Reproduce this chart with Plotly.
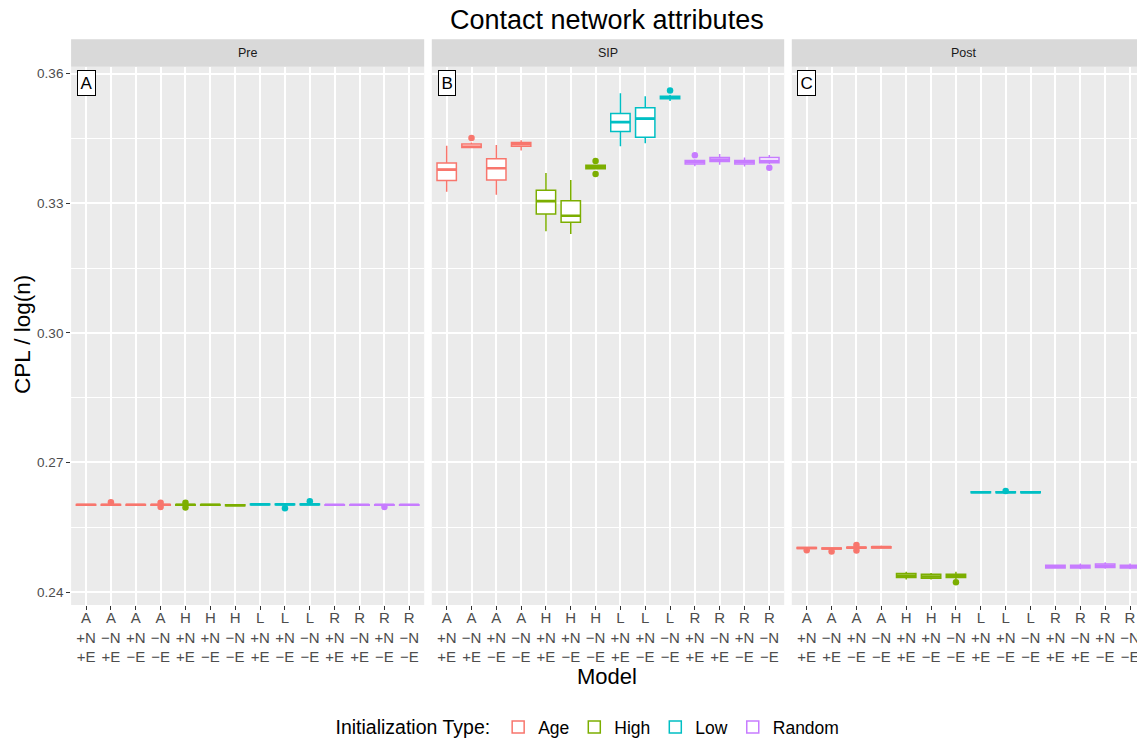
import plotly.graph_objects as go

# ---- data -------------------------------------------------------------
models = ["A+N+E", "A−N+E", "A+N−E", "A−N−E",
          "H+N+E", "H+N−E", "H−N−E",
          "L+N+E", "L+N−E", "L−N−E",
          "R+N+E", "R−N+E", "R+N−E", "R−N−E"]
model_init = ["Age"] * 4 + ["High"] * 3 + ["Low"] * 3 + ["Random"] * 4
tick_labels = ["A<br>+N<br>+E", "A<br>−N<br>+E", "A<br>+N<br>−E", "A<br>−N<br>−E",
               "H<br>+N<br>+E", "H<br>+N<br>−E", "H<br>−N<br>−E",
               "L<br>+N<br>+E", "L<br>+N<br>−E", "L<br>−N<br>−E",
               "R<br>+N<br>+E", "R<br>−N<br>+E", "R<br>+N<br>−E", "R<br>−N<br>−E"]
periods = ["Pre", "SIP", "Post"]
panel_tags = ["A", "B", "C"]
init_types = ["Age", "High", "Low", "Random"]
init_colors = {"Age": "#F8766D", "High": "#7CAE00", "Low": "#00BFC4", "Random": "#C77CFF"}

# five-number summaries per model: lower whisker, q1, median, q3, upper whisker
pre_lo  = [0.2600, 0.2600, 0.2600, 0.2600, 0.2600, 0.2600, 0.2599, 0.2601, 0.2601, 0.2601, 0.2601, 0.2601, 0.2601, 0.2601]
pre_q1  = [0.2601, 0.2601, 0.2601, 0.2601, 0.2601, 0.2601, 0.2600, 0.2602, 0.2602, 0.2602, 0.2601, 0.2601, 0.2601, 0.2601]
pre_med = [0.2602, 0.2602, 0.2602, 0.2602, 0.2602, 0.2602, 0.2601, 0.2603, 0.2603, 0.2603, 0.2602, 0.2602, 0.2602, 0.2602]
pre_q3  = [0.2603, 0.2603, 0.2603, 0.2603, 0.2603, 0.2603, 0.2602, 0.2604, 0.2604, 0.2604, 0.2602, 0.2602, 0.2602, 0.2602]
pre_hi  = [0.2604, 0.2604, 0.2604, 0.2604, 0.2604, 0.2604, 0.2603, 0.2605, 0.2605, 0.2606, 0.2603, 0.2603, 0.2603, 0.2603]

sip_lo  = [0.3327, 0.3428, 0.3320, 0.3422, 0.3235, 0.3229, 0.3380, 0.3432, 0.3439, 0.3537, 0.3386, 0.3389, 0.3385, 0.3391]
sip_q1  = [0.3353, 0.3429, 0.3354, 0.3432, 0.3275, 0.3256, 0.3380, 0.3466, 0.3453, 0.3542, 0.3391, 0.3397, 0.3391, 0.3394]
sip_med = [0.3378, 0.3431, 0.3381, 0.3437, 0.3305, 0.3271, 0.3385, 0.3488, 0.3496, 0.3545, 0.3395, 0.3401, 0.3395, 0.3398]
sip_q3  = [0.3393, 0.3437, 0.3403, 0.3441, 0.3330, 0.3306, 0.3388, 0.3508, 0.3521, 0.3548, 0.3399, 0.3406, 0.3399, 0.3406]
sip_hi  = [0.3433, 0.3441, 0.3435, 0.3446, 0.3370, 0.3354, 0.3388, 0.3555, 0.3548, 0.3551, 0.3402, 0.3414, 0.3406, 0.3412]

post_lo  = [0.2500, 0.2499, 0.2500, 0.2501, 0.2429, 0.2429, 0.2430, 0.2629, 0.2629, 0.2629, 0.2455, 0.2453, 0.2454, 0.2453]
post_q1  = [0.2501, 0.2500, 0.2502, 0.2502, 0.2434, 0.2432, 0.2434, 0.2630, 0.2630, 0.2630, 0.2456, 0.2456, 0.2457, 0.2456]
post_med = [0.2502, 0.2501, 0.2503, 0.2504, 0.2438, 0.2436, 0.2437, 0.2631, 0.2631, 0.2631, 0.2459, 0.2459, 0.2461, 0.2459]
post_q3  = [0.2503, 0.2502, 0.2504, 0.2505, 0.2443, 0.2441, 0.2441, 0.2632, 0.2632, 0.2632, 0.2462, 0.2462, 0.2465, 0.2462]
post_hi  = [0.2504, 0.2503, 0.2505, 0.2507, 0.2447, 0.2444, 0.2447, 0.2633, 0.2633, 0.2633, 0.2464, 0.2466, 0.2469, 0.2466]

# outlying replicates: (model index, value)
pre_out  = [(1, 0.2608), (3, 0.2597), (3, 0.2607), (4, 0.2596), (4, 0.2607),
            (8, 0.2594), (9, 0.2610), (12, 0.2597)]
sip_out  = [(1, 0.3451), (6, 0.3398), (6, 0.3368), (9, 0.3561), (10, 0.3411), (13, 0.3382)]
post_out = [(0, 0.2497), (1, 0.2494), (2, 0.2496), (2, 0.2509), (6, 0.2423), (8, 0.2634)]

summaries = {
    "Pre": (pre_lo, pre_q1, pre_med, pre_q3, pre_hi, pre_out),
    "SIP": (sip_lo, sip_q1, sip_med, sip_q3, sip_hi, sip_out),
    "Post": (post_lo, post_q1, post_med, post_q3, post_hi, post_out),
}

# ---- layout geometry --------------------------------------------------
W, H = 1137, 738
FONT = "Liberation Sans, Arial, sans-serif"
BOX_W = 0.78
x_domains = [[71.1 / W, 424.2 / W], [431.8 / W, 784.2 / W], [791.8 / W, 1.0]]
x_ranges = [[-0.6, 13.6], [-0.6, 13.6], [-0.6, 13.28]]
y_domain = [1 - 605 / H, 1 - 66.7 / H]
strip_dom = [1 - 66.7 / H, 1 - 39.3 / H]
y_range = [0.23701, 0.36162]

fig = go.Figure()

for p, period in enumerate(periods):
    lo, q1, med, q3, hi, outs = summaries[period]
    xa = "x" if p == 0 else f"x{p + 1}"
    ya = "y" if p == 0 else f"y{p + 1}"
    for t in init_types:
        idx = [i for i, m in enumerate(model_init) if m == t]
        col = init_colors[t]
        fig.add_trace(go.Box(
            x=idx, q1=[q1[i] for i in idx], median=[med[i] for i in idx],
            q3=[q3[i] for i in idx], lowerfence=[lo[i] for i in idx],
            upperfence=[hi[i] for i in idx], orientation="v",
            width=BOX_W, whiskerwidth=0, boxpoints=False,
            fillcolor="white", line=dict(color=col, width=1.5),
            name=t, legendgroup=t, showlegend=(p == 0),
            xaxis=xa, yaxis=ya))
        # thicker median bar
        mx, my = [], []
        for i in idx:
            mx += [i - BOX_W / 2, i + BOX_W / 2, None]
            my += [med[i], med[i], None]
        fig.add_trace(go.Scatter(
            x=mx, y=my, mode="lines", line=dict(color=col, width=2.6),
            legendgroup=t, showlegend=False, hoverinfo="skip",
            xaxis=xa, yaxis=ya))
        ox = [i for i, v in outs if model_init[i] == t]
        oy = [v for i, v in outs if model_init[i] == t]
        if ox:
            fig.add_trace(go.Scatter(
                x=ox, y=oy, mode="markers",
                marker=dict(color=col, size=6.5),
                legendgroup=t, showlegend=False,
                xaxis=xa, yaxis=ya))

axis_common = dict(showline=False, zeroline=False, automargin=False,
                   gridcolor="white", gridwidth=1.6,
                   ticks="outside", ticklen=4, tickwidth=1, tickcolor="#333333")
layout_axes = {}
for p in range(3):
    xk = "xaxis" if p == 0 else f"xaxis{p + 1}"
    yk = "yaxis" if p == 0 else f"yaxis{p + 1}"
    layout_axes[xk] = dict(
        axis_common, domain=x_domains[p], range=x_ranges[p],
        anchor="y" if p == 0 else f"y{p + 1}",
        tickmode="array", tickvals=list(range(len(models))), ticktext=tick_labels,
        ticklabeloverflow="allow", ticklabelstandoff=-5,
        tickfont=dict(family=FONT, size=15, color="#4D4D4D"), showgrid=True)
    layout_axes[yk] = dict(
        axis_common, domain=y_domain, range=y_range,
        anchor="x" if p == 0 else f"x{p + 1}",
        tickmode="array", tickvals=[0.24, 0.27, 0.30, 0.33, 0.36],
        ticktext=["0.24", "0.27", "0.30", "0.33", "0.36"],
        tickfont=dict(family=FONT, size=13.5, color="#4D4D4D"),
        showticklabels=(p == 0), showgrid=True,
        minor=dict(tickvals=[0.255, 0.285, 0.315, 0.345], showgrid=True,
                   gridcolor="white", gridwidth=0.8, ticks=""))
    if p > 0:
        layout_axes[yk]["matches"] = "y"
        layout_axes[yk]["ticks"] = ""

shapes = []
annotations = []
for p, period in enumerate(periods):
    xd = "x domain" if p == 0 else f"x{p + 1} domain"
    shapes.append(dict(type="rect", xref=xd, yref="paper", x0=0, x1=1,
                       y0=strip_dom[0], y1=strip_dom[1],
                       fillcolor="#D9D9D9", line=dict(width=0), layer="below"))
    annotations.append(dict(xref=xd, yref="paper", x=0.5,
                            y=(strip_dom[0] + strip_dom[1]) / 2,
                            xanchor="center", yanchor="middle",
                            text=period, showarrow=False,
                            font=dict(family=FONT, size=12.5, color="#1A1A1A")))
    annotations.append(dict(xref="x" if p == 0 else f"x{p + 1}",
                            yref="y" if p == 0 else f"y{p + 1}",
                            x=0, y=0.3579, xanchor="center", yanchor="middle",
                            text=panel_tags[p], showarrow=False,
                            font=dict(family=FONT, size=17, color="black"),
                            bgcolor="white", bordercolor="black",
                            borderwidth=1, borderpad=2.5))

annotations += [
    dict(xref="paper", yref="paper", x=607 / W, y=1 - 20 / H,
         xanchor="center", yanchor="middle",
         text="Contact network attributes", showarrow=False,
         font=dict(family=FONT, size=27, color="black")),
    dict(xref="paper", yref="paper", x=22 / W, y=1 - 335 / H,
         xanchor="center", yanchor="middle",
         text="CPL / log(n)", showarrow=False, textangle=-90,
         font=dict(family=FONT, size=22.5, color="black")),
    dict(xref="paper", yref="paper", x=607 / W, y=1 - 676 / H,
         xanchor="center", yanchor="middle",
         text="Model", showarrow=False,
         font=dict(family=FONT, size=22, color="black")),
]

fig.update_layout(
    width=W, height=H,
    margin=dict(l=0, r=0, t=0, b=0, autoexpand=False),
    paper_bgcolor="white", plot_bgcolor="#EBEBEB",
    boxmode="overlay", shapes=shapes, annotations=annotations,
    legend=dict(orientation="h", x=589 / W, xanchor="center",
                y=1 - 727 / H, yanchor="middle",
                title=dict(text="Initialization Type:",
                           font=dict(family=FONT, size=19.5, color="black")),
                font=dict(family=FONT, size=17.5, color="black"),
                bgcolor="rgba(0,0,0,0)"),
    showlegend=True,
    **layout_axes,
)

fig.write_html("out.html")
